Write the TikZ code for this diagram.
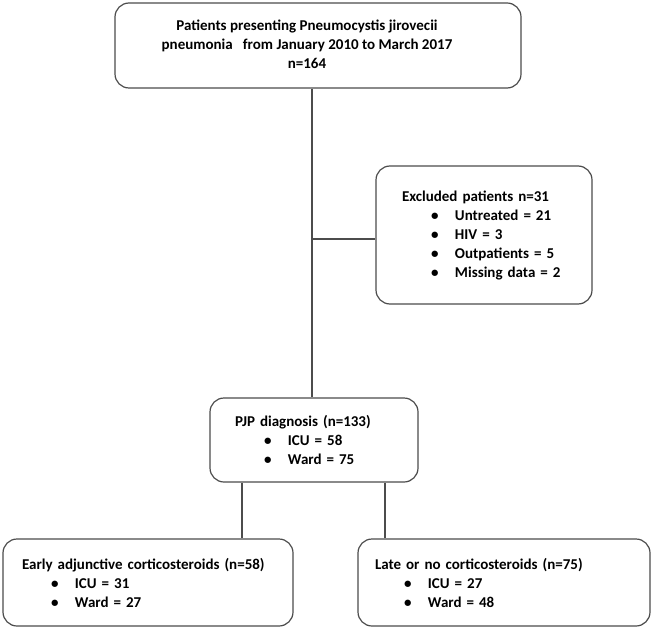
\documentclass[tikz,border=0pt]{standalone}
\usepackage{fontspec}
\setmainfont{Carlito}
\usetikzlibrary{positioning}
\tikzstyle{box} = [rectangle, rounded corners=14pt, draw=black!70, line width=1.2pt, font={\fontsize{15}{19}\selectfont\bfseries}]
\tikzstyle{link} = [draw=black!70, line width=1.2pt]
\newcommand{\itm}[1]{\hspace*{29pt}\makebox[24pt][l]{\textbullet}#1}

\begin{document}
\begin{tikzpicture}[x=1pt, y=-1pt]
          \useasboundingbox (0,0) rectangle (652,628);
          \node (top) [box, minimum width=406pt, minimum height=85pt] at (318,45.5) {\begin{tabular}{@{}c@{}}Patients presenting Pneumocystis jirovecii\\ pneumonia\ \ \ from January 2010 to March 2017\\ n=164\end{tabular}\hspace*{22pt}};
          \node (excl) [box, minimum width=216pt, minimum height=138pt, inner xsep=26pt, text width=164pt, align=left] at (484,235) {Excluded patients n=31\\ \itm{Untreated = 21}\\ \itm{HIV = 3}\\ \itm{Outpatients = 5}\\ \itm{Missing data = 2}};
          \node (pjp) [box, minimum width=208pt, minimum height=84pt, inner xsep=25pt, text width=158pt, align=left] at (314,440) {PJP diagnosis (n=133)\\ \itm{ICU = 58}\\ \itm{Ward = 75}};
          \node (early) [box, minimum width=290pt, minimum height=87pt, inner xsep=19pt, text width=252pt, align=left] at (148,582.5) {Early adjunctive corticosteroids (n=58)\\ \itm{ICU = 31}\\ \itm{Ward = 27}};
          \node (late) [box, minimum width=292pt, minimum height=87pt, inner xsep=17pt, text width=258pt, align=left] at (504,582.5) {Late or no corticosteroids (n=75)\\ \itm{ICU = 27}\\ \itm{Ward = 48}};
          \coordinate (split) at (312,239);
          \coordinate (lft) at (242,0);
          \coordinate (rgt) at (385,0);
          \draw [link] (top.south -| split) -- (pjp.north -| split);
          \draw [link] (split) -- (split -| excl.west);
          \draw [link] (pjp.south -| lft) -- (early.north -| lft);
          \draw [link] (pjp.south -| rgt) -- (late.north -| rgt);
        \end{tikzpicture}
\end{document}
